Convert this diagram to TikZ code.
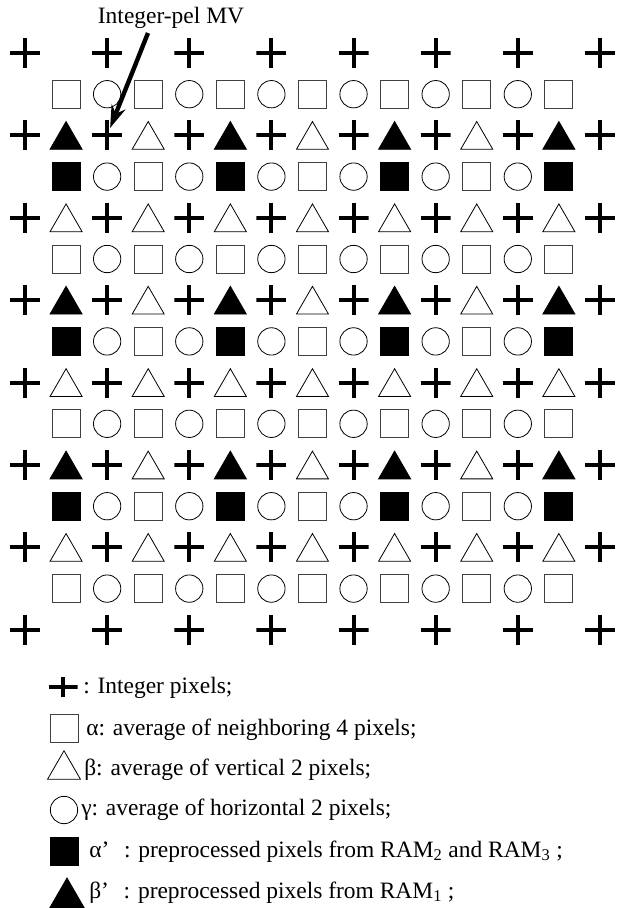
\documentclass[tikz,border=0pt]{standalone}
\usepackage{fontspec}
\setmainfont{Liberation Serif}
\usetikzlibrary{arrows.meta, shapes.geometric}

\begin{document}
\begin{tikzpicture}[
  x=0.75pt, y=-0.75pt,
  font=\fontsize{17.6}{20}\selectfont,
  ipix/.style={inner sep=0pt, minimum size=22.5pt, path picture={
      \draw[line width=3pt] (path picture bounding box.west) -- (path picture bounding box.east)
        (path picture bounding box.north) -- (path picture bounding box.south);}},
  legpix/.style={ipix, minimum width=21.75pt, minimum height=15pt},
  apix/.style={draw=black!75, line width=0.6pt, inner sep=0pt, minimum size=21pt},
  apre/.style={apix, draw=black, fill=black},
  gpix/.style={draw, circle, line width=0.6pt, inner sep=0pt, minimum size=20.5pt},
  bpix/.style={draw, line width=0.6pt, regular polygon, regular polygon sides=3,
               inner sep=0pt, minimum size=#1, yshift=-#1/8},
  bpix/.default=27.75pt,
  bpre/.style={bpix=#1, fill=black},
  bpre/.default=27.75pt,
  txt/.style={anchor=base west, inner sep=0pt},
  mvarr/.style={-{Stealth[length=17pt, width=11pt]}, line width=3.3pt, shorten >=6pt}
]
\useasboundingbox (0,0) rectangle (618,908);

% pixel grid
\begin{scope}[shift={(25,53)}, x=30.80pt, y=-30.90pt]
  % integer pixels
  \foreach \i in {0,2,...,14}
    \foreach \j in {0,2,...,14}
      \node[ipix] (p-\i-\j) at (\i,\j) {};
  % alpha
  \foreach \i in {1,3,...,13}
    \foreach \j in {1,5,9,13}
      \node[apix] (a-\i-\j) at (\i,\j) {};
  \foreach \i in {3,7,11}
    \foreach \j in {3,7,11}
      \node[apix] (a-\i-\j) at (\i,\j) {};
  \foreach \i in {1,5,9,13}
    \foreach \j in {3,7,11}
      \node[apre] (a-\i-\j) at (\i,\j) {};
  % gamma
  \foreach \i in {2,4,...,12}
    \foreach \j in {1,3,...,13}
      \node[gpix] (g-\i-\j) at (\i,\j) {};
  % beta
  \foreach \i in {1,3,...,13}
    \foreach \j in {4,8,12}
      \node[bpix] (b-\i-\j) at (\i,\j) {};
  \foreach \i in {3,7,11}
    \foreach \j in {2,6,10}
      \node[bpix] (b-\i-\j) at (\i,\j) {};
  \foreach \i in {1,5,9,13}
    \foreach \j in {2,6,10}
      \node[bpre] (b-\i-\j) at (\i,\j) {};
\end{scope}

\node[anchor=base, inner sep=0pt] (mvlbl) at (171,23) {Integer-pel MV};
\coordinate (mvtail) at (148,33);
\draw[mvarr] (mvtail) -- (p-2-2.center);

% legend
\node[legpix] (l1) at (63,687) {};
\node[txt] (t1) at (83,693) {: Integer pixels;};
\node[apix] (l2) at (64,728) {};
\node[txt] (t2) at (86,735) {α: average of neighboring 4 pixels;};
\node[bpix=28.5pt] (l3) at (64,765) {};
\node[txt] (t3) at (84,775) {β: average of vertical 2 pixels;};
\node[gpix] (l4) at (64,810) {};
\node[txt] (t4) at (81,815) {γ: average of horizontal 2 pixels;};
\node[apre] (l5) at (64,851) {};
\node[txt] (t5) at (89,857) {α’\hspace{11pt}: preprocessed pixels from RAM\textsubscript{2} and RAM\textsubscript{3} ;};
\node[bpre=30pt] (l6) at (67,893) {};
\node[txt] (t6) at (89,898) {β’\hspace{11pt}: preprocessed pixels from RAM\textsubscript{1} ;};
\end{tikzpicture}
\end{document}
